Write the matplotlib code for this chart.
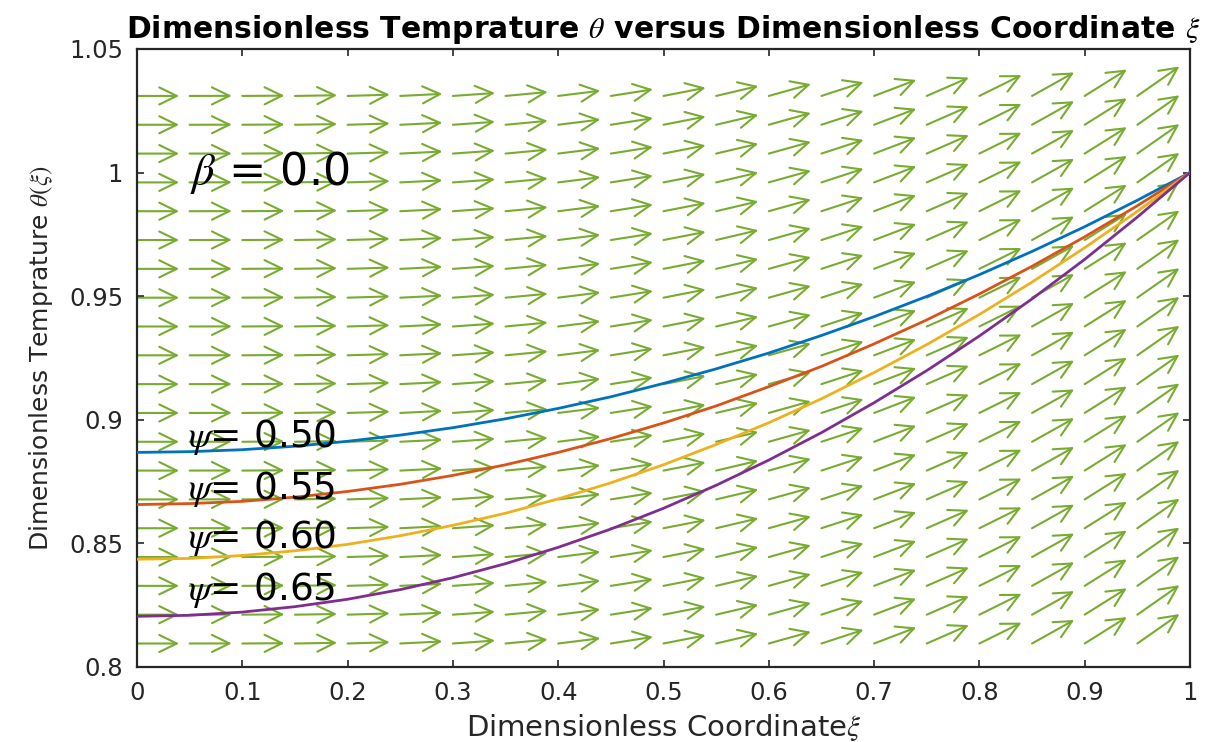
import numpy as np
import matplotlib.pyplot as plt
from matplotlib.patches import FancyArrowPatch

plt.rcParams['font.family'] = ['DejaVu Sans']
plt.rcParams['mathtext.fontset'] = 'stix'

# dimensionless coordinate and temperature curves
xi = [0.0, 0.05, 0.1, 0.15, 0.2, 0.25, 0.3, 0.35, 0.4, 0.45, 0.5,
      0.55, 0.6, 0.65, 0.7, 0.75, 0.8, 0.85, 0.9, 0.95, 1.0]
theta_050 = [0.8868, 0.8871, 0.8879, 0.8893, 0.8913, 0.8938, 0.8968, 0.9004, 0.9046, 0.9093, 0.9147,
             0.9206, 0.9270, 0.9341, 0.9417, 0.9499, 0.9587, 0.9681, 0.9781, 0.9888, 1.0]
theta_055 = [0.8657, 0.8661, 0.8670, 0.8687, 0.8710, 0.8739, 0.8775, 0.8818, 0.8868, 0.8924, 0.8987,
             0.9056, 0.9134, 0.9216, 0.9307, 0.9404, 0.9509, 0.9621, 0.9740, 0.9866, 1.0]
theta_060 = [0.8436, 0.8439, 0.8451, 0.8470, 0.8496, 0.8531, 0.8573, 0.8622, 0.8680, 0.8745, 0.8818,
             0.8900, 0.8988, 0.9085, 0.9191, 0.9304, 0.9426, 0.9557, 0.9696, 0.9843, 1.0]
theta_065 = [0.8205, 0.8209, 0.8222, 0.8244, 0.8274, 0.8313, 0.8361, 0.8418, 0.8484, 0.8558, 0.8642,
             0.8735, 0.8837, 0.8948, 0.9069, 0.9199, 0.9339, 0.9489, 0.9649, 0.9820, 1.0]
psi_labels = ['0.50', '0.55', '0.60', '0.65']

# slope of the background arrows for each column (xi = 0, 0.05, ..., 0.95)
field_slope = [0.0, 0.001, 0.003, 0.007, 0.013, 0.021, 0.030, 0.040, 0.053, 0.067,
               0.083, 0.100, 0.119, 0.139, 0.162, 0.186, 0.211, 0.238, 0.267, 0.298]

x_ticks = [0, 0.1, 0.2, 0.3, 0.4, 0.5, 0.6, 0.7, 0.8, 0.9, 1]
x_ticklabels = ['0', '0.1', '0.2', '0.3', '0.4', '0.5', '0.6', '0.7', '0.8', '0.9', '1']
y_ticks = [0.8, 0.85, 0.9, 0.95, 1.0, 1.05]
y_ticklabels = ['0.8', '0.85', '0.9', '0.95', '1', '1.05']

colors = ['#0072BD', '#D95319', '#EDB120', '#7E2F8E']
green = '#77AC30'
dark = '#262626'

fig = plt.figure(figsize=(12.19, 7.42), dpi=100)
ax = fig.add_axes([0.1124, 0.1011, 0.8638, 0.8329])

# arrow field
qx = np.arange(20) * 0.05
qy = np.linspace(0.8095, 1.031, 20)
step = 0.04
for i, x0 in enumerate(qx):
    for y0 in qy:
        arr = FancyArrowPatch((x0, y0), (x0 + step, y0 + step * field_slope[i]),
                              arrowstyle='->,head_length=0.45,head_width=0.22',
                              mutation_scale=28, color=green, lw=1.5,
                              shrinkA=0, shrinkB=0, zorder=1)
        ax.add_patch(arr)

for th, c in zip([theta_050, theta_055, theta_060, theta_065], colors):
    ax.plot(xi, th, color=c, lw=2.0, zorder=3)

label_y = [0.893, 0.872, 0.852, 0.831]
for lab, yy in zip(psi_labels, label_y):
    ax.text(0.048, yy, r'$\psi$= ' + lab, fontsize=27, va='center', ha='left',
            color='k', zorder=4)
ax.text(0.05, 1.0, r'$\beta$ = 0.0', fontsize=32, va='center', ha='left',
        color='k', zorder=4)

ax.set_xlim(0, 1)
ax.set_ylim(0.8, 1.05)
ax.set_xticks(x_ticks)
ax.set_xticklabels(x_ticklabels)
ax.set_yticks(y_ticks)
ax.set_yticklabels(y_ticklabels)
ax.tick_params(direction='in', top=True, right=True, length=5, width=1.2,
               labelsize=17.5, colors=dark, pad=10)
for sp in ax.spines.values():
    sp.set_linewidth(1.6)
    sp.set_color(dark)

ax.set_title(r'Dimensionless Temprature $\theta$ versus Dimensionless Coordinate $\xi$',
             fontsize=21.5, fontweight='bold', pad=8)
ax.set_xlabel(r'Dimensionless Coordinate$\xi$', fontsize=21, color=dark, labelpad=5)
ax.set_ylabel(r'Dimensionless Temprature $\theta(\xi)$', fontsize=18, color=dark, labelpad=10)

fig.savefig('out.png', dpi=100)
